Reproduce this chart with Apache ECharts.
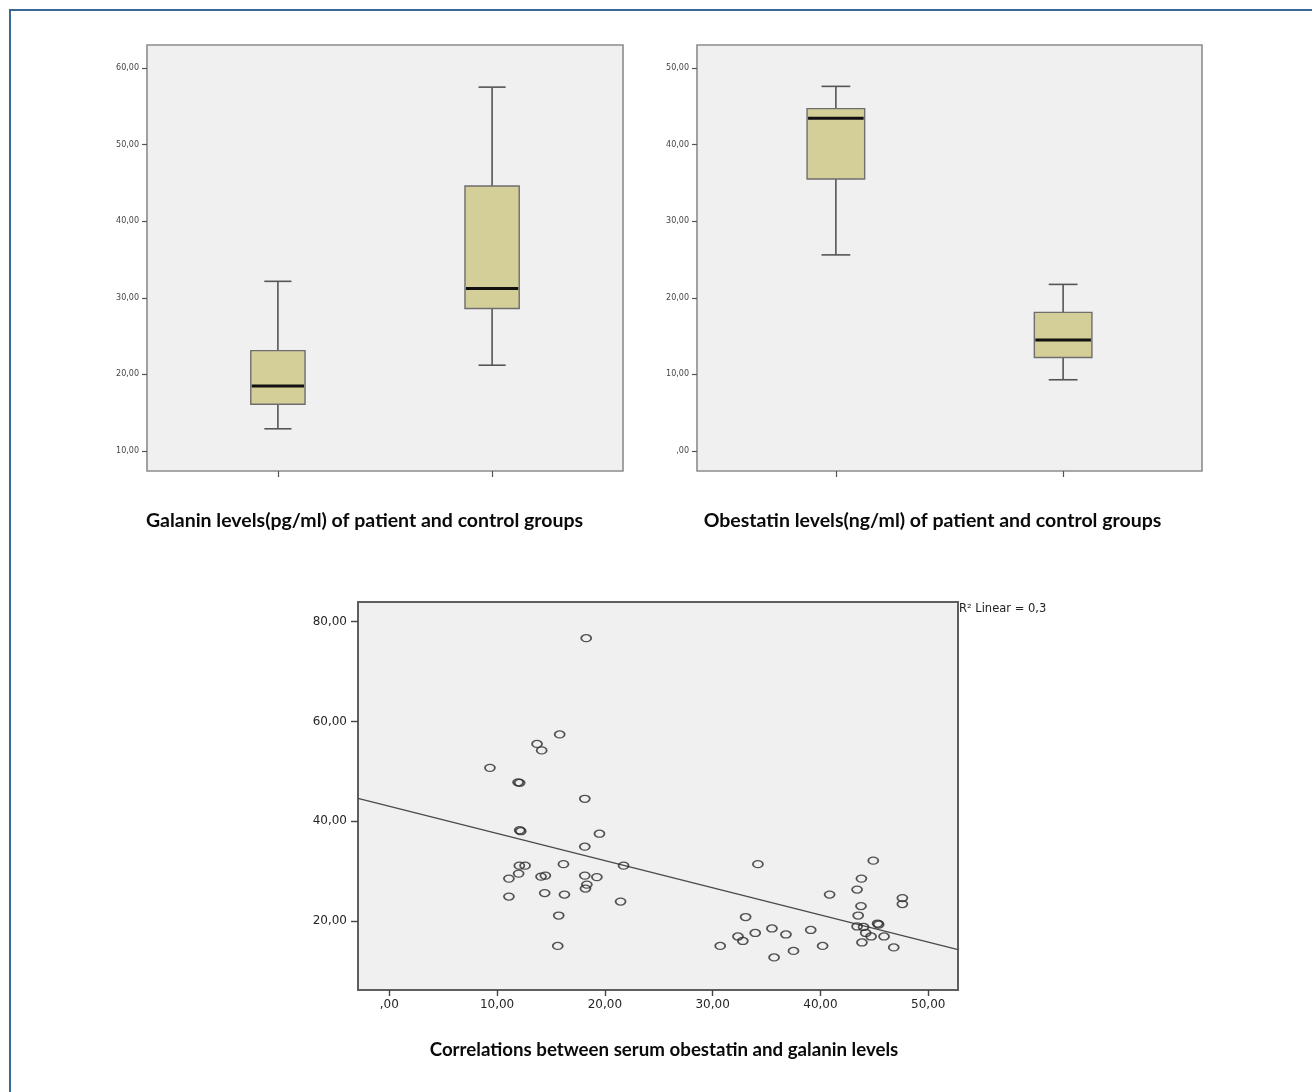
<!DOCTYPE html>
<html>
<head>
<meta charset="utf-8">
<style>
  html, body { margin: 0; padding: 0; background: #ffffff; }
  #wrap { position: relative; width: 1312px; height: 1092px; overflow: hidden; }
  #chart { position: absolute; left: 0; top: 0; width: 1312px; height: 1092px; }
  #border { position: absolute; left: 9px; top: 9px; width: 1320px; height: 1100px;
            border-top: 2px solid #3b6894; border-left: 2px solid #3b6894; pointer-events: none; }
</style>
<script src="https://cdn.jsdelivr.net/npm/echarts@6/dist/echarts.min.js"></script>
</head>
<body>
<div id="wrap"><div id="chart"></div><div id="border"></div></div>
<script>
// ---------------- data ----------------
const boxPositions = [0.275, 0.725];            // group positions along x (fraction of plot)
// [min, Q1, median, Q3, max]
const galaninStats   = [[12.9, 16.1, 18.5, 23.1, 32.15], [21.2, 28.6, 31.2, 44.6, 57.5]];
const obestatinStats = [[25.6, 35.5, 43.45, 44.7, 47.6], [9.3, 12.2, 14.5, 18.1, 21.75]];

const galaninTicks   = [10, 20, 30, 40, 50, 60];
const obestatinTicks = [0, 10, 20, 30, 40, 50];
const scatterXTicks  = [0, 10, 20, 30, 40, 50];
const scatterYTicks  = [20, 40, 60, 80];

// scatter: obestatin (x), galanin (y)
const obestatinValues = [
  18.27, 15.81, 13.71, 14.14, 9.34, 11.95, 12.1, 18.14, 12.1, 12.2,
  19.5, 18.14, 16.16, 12.07, 12.6, 12.0, 11.1, 14.08, 14.48, 18.14,
  19.26, 21.74, 18.33, 18.2, 11.1, 14.42, 16.25, 21.46, 15.72, 15.63,
  34.2, 44.9, 43.8, 43.4, 40.85, 47.6, 47.6, 43.76, 43.5, 33.06,
  45.3, 45.4, 43.4, 44.0, 35.5, 39.1, 33.95, 36.8, 44.2, 32.35,
  32.8, 44.7, 45.9, 43.85, 30.7, 40.2, 46.8, 37.5, 35.7
];
const galaninValues = [
  76.7, 57.4, 55.5, 54.2, 50.7, 47.8, 47.7, 44.5, 38.2, 38.0,
  37.5, 34.9, 31.4, 31.1, 31.1, 29.5, 28.5, 28.9, 29.1, 29.1,
  28.8, 31.1, 27.3, 26.5, 24.9, 25.6, 25.3, 23.9, 21.1, 15.0,
  31.4, 32.1, 28.5, 26.3, 25.3, 24.6, 23.4, 23.0, 21.1, 20.8,
  19.5, 19.3, 18.9, 18.8, 18.5, 18.2, 17.6, 17.3, 17.6, 16.9,
  16.0, 16.9, 16.9, 15.7, 15.0, 15.0, 14.7, 14.0, 12.7
];
const fitIntercept = 43.0;
const fitSlope = -0.545;

const titles = {
  galanin: 'Galanin levels(pg/ml) of patient and control groups',
  obestatin: 'Obestatin levels(ng/ml) of patient and control groups',
  scatter: 'Correlations between serum obestatin and galanin levels',
  r2: 'R² Linear = 0,3'
};

// ---------------- helpers ----------------
const fmt = v => (v === 0 ? ',00' : v.toFixed(2).replace('.', ','));

function boxRows(stats) {
  return stats.map((s, i) => [boxPositions[i]].concat(s));
}

function renderBox(params, api) {
  const x = api.value(0);
  const pMin = api.coord([x, api.value(1)]);
  const pQ1  = api.coord([x, api.value(2)]);
  const pMed = api.coord([x, api.value(3)]);
  const pQ3  = api.coord([x, api.value(4)]);
  const pMax = api.coord([x, api.value(5)]);
  const plotW = api.size([1, 0])[0];
  const bw = plotW * 0.114;
  const cw = bw * 0.5;
  const cx = pMed[0];
  const wStyle = { stroke: '#555555', lineWidth: 1.6 };
  return {
    type: 'group',
    children: [
      { type: 'line', shape: { x1: cx, y1: pQ3[1], x2: cx, y2: pMax[1] }, style: wStyle },
      { type: 'line', shape: { x1: cx, y1: pQ1[1], x2: cx, y2: pMin[1] }, style: wStyle },
      { type: 'line', shape: { x1: cx - cw / 2, y1: pMax[1], x2: cx + cw / 2, y2: pMax[1] }, style: wStyle },
      { type: 'line', shape: { x1: cx - cw / 2, y1: pMin[1], x2: cx + cw / 2, y2: pMin[1] }, style: wStyle },
      { type: 'rect', shape: { x: cx - bw / 2, y: pQ3[1], width: bw, height: pQ1[1] - pQ3[1] },
        style: { fill: '#d4cf98', stroke: '#6e6e6e', lineWidth: 1.4 } },
      { type: 'line', shape: { x1: cx - bw / 2 + 1, y1: pMed[1], x2: cx + bw / 2 - 1, y2: pMed[1] },
        style: { stroke: '#111111', lineWidth: 3 } }
    ]
  };
}

const topY = 45, topH = 426;
const smallLabel = { fontFamily: 'DejaVu Sans', fontSize: 8, color: '#444444', margin: 8 };
const bigLabel = { fontFamily: 'DejaVu Sans', fontSize: 12, color: '#262626' };

const sxMin = -2.9, sxMax = 52.76;
const syMin = 6.17, syMax = 83.95;
const fitLine = [[sxMin, fitIntercept + fitSlope * sxMin], [sxMax, fitIntercept + fitSlope * sxMax]];
const scatterData = obestatinValues.map((v, i) => [v, galaninValues[i]]);

const hiddenLine = { show: false, onZero: false };

const chart = echarts.init(document.getElementById('chart'), null, { renderer: 'canvas' });
chart.setOption({
  animation: false,
  backgroundColor: '#ffffff',
  grid: [
    { left: 147, top: topY, width: 476, height: topH, show: true, backgroundColor: '#f0f0f0',
      borderColor: '#8c8c8c', borderWidth: 1.6 },
    { left: 697, top: topY, width: 505, height: topH, show: true, backgroundColor: '#f0f0f0',
      borderColor: '#8c8c8c', borderWidth: 1.6 },
    { left: 358, top: 602, width: 600, height: 388, show: true, backgroundColor: '#f0f0f0',
      borderColor: '#5e5e5e', borderWidth: 2 }
  ],
  xAxis: [
    { gridIndex: 0, type: 'value', position: 'bottom', min: 0, max: 1, splitLine: { show: false },
      axisLine: hiddenLine,
      axisTick: { show: true, length: 6, customValues: boxPositions, lineStyle: { color: '#555', width: 1.2 } },
      axisLabel: { show: false } },
    { gridIndex: 1, type: 'value', position: 'bottom', min: 0, max: 1, splitLine: { show: false },
      axisLine: hiddenLine,
      axisTick: { show: true, length: 6, customValues: boxPositions, lineStyle: { color: '#555', width: 1.2 } },
      axisLabel: { show: false } },
    { gridIndex: 2, type: 'value', position: 'bottom', min: sxMin, max: sxMax, splitLine: { show: false },
      axisLine: hiddenLine,
      axisTick: { show: true, length: 6, customValues: scatterXTicks, lineStyle: { color: '#444', width: 1.4 } },
      axisLabel: Object.assign({ customValues: scatterXTicks, formatter: fmt, margin: 9 }, bigLabel) }
  ],
  yAxis: [
    { gridIndex: 0, type: 'value', position: 'left', min: 7.39, max: 63.0, splitLine: { show: false },
      axisLine: hiddenLine,
      axisTick: { show: true, length: 5, customValues: galaninTicks, lineStyle: { color: '#555', width: 1.2 } },
      axisLabel: Object.assign({ customValues: galaninTicks, formatter: fmt }, smallLabel) },
    { gridIndex: 1, type: 'value', position: 'left', min: -2.61, max: 53.0, splitLine: { show: false },
      axisLine: hiddenLine,
      axisTick: { show: true, length: 5, customValues: obestatinTicks, lineStyle: { color: '#555', width: 1.2 } },
      axisLabel: Object.assign({ customValues: obestatinTicks, formatter: fmt }, smallLabel) },
    { gridIndex: 2, type: 'value', position: 'left', min: syMin, max: syMax, splitLine: { show: false },
      axisLine: hiddenLine,
      axisTick: { show: true, length: 7, customValues: scatterYTicks, lineStyle: { color: '#444', width: 1.4 } },
      axisLabel: Object.assign({ customValues: scatterYTicks, formatter: fmt, margin: 11 }, bigLabel) }
  ],
  series: [
    { type: 'custom', xAxisIndex: 0, yAxisIndex: 0, renderItem: renderBox, data: boxRows(galaninStats),
      encode: { x: 0, y: [1, 2, 3, 4, 5] } },
    { type: 'custom', xAxisIndex: 1, yAxisIndex: 1, renderItem: renderBox, data: boxRows(obestatinStats),
      encode: { x: 0, y: [1, 2, 3, 4, 5] } },
    { type: 'line', xAxisIndex: 2, yAxisIndex: 2, data: fitLine, symbol: 'none',
      lineStyle: { color: '#4a4a4a', width: 1.3 }, z: 2 },
    { type: 'scatter', xAxisIndex: 2, yAxisIndex: 2, data: scatterData,
      symbol: 'path://M0,5 A5,5 0 1 0 10,5 A5,5 0 1 0 0,5 Z', symbolSize: [10, 7],
      itemStyle: { color: 'rgba(0,0,0,0)', borderColor: '#2a2a2a', borderWidth: 1.5 }, z: 3 }
  ],
  graphic: [
    { type: 'text', x: 364.5, y: 521, style: { text: titles.galanin, fill: '#0a0a0a',
      font: 'bold 19.5px Lato', textAlign: 'center', textVerticalAlign: 'middle' } },
    { type: 'text', x: 932.5, y: 521, style: { text: titles.obestatin, fill: '#0a0a0a',
      font: 'bold 19.5px Lato', textAlign: 'center', textVerticalAlign: 'middle' } },
    { type: 'text', x: 664, y: 1050, style: { text: titles.scatter, fill: '#0a0a0a',
      font: 'bold 18.7px Lato', textAlign: 'center', textVerticalAlign: 'middle' } },
    { type: 'text', x: 959, y: 609, style: { text: titles.r2, fill: '#222222',
      font: '11.5px "DejaVu Sans"', textAlign: 'left', textVerticalAlign: 'middle' } }
  ]
});
</script>
</body>
</html>
